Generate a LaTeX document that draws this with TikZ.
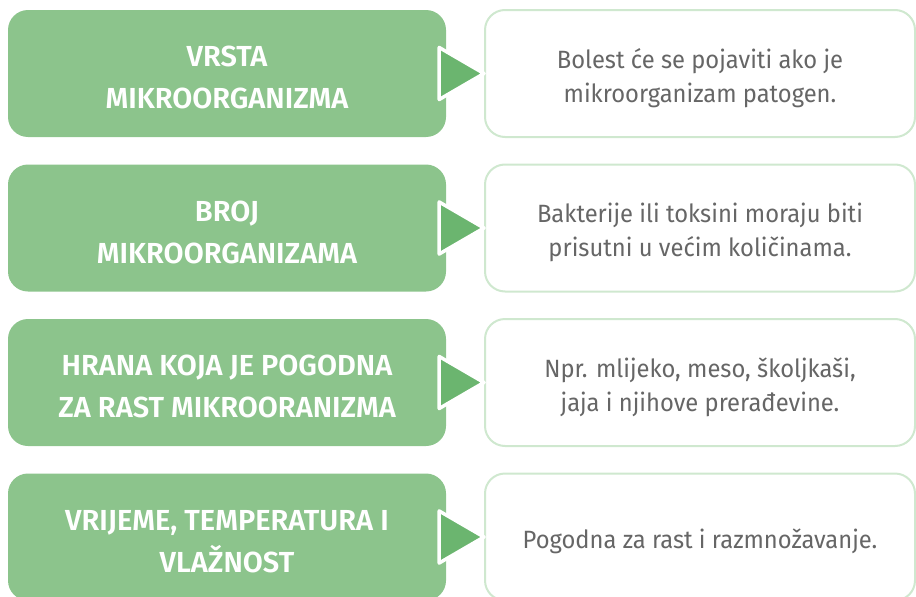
\documentclass[tikz,border=0pt]{standalone}
\usepackage{fontspec}
\setmainfont{Fira Sans}[BoldFont={Fira Sans SemiBold}]
\newfontfamily\rfont[FakeStretch=0.95]{Fira Sans}
\definecolor{boxgreen}{HTML}{8CC48C}
\definecolor{trigreen}{HTML}{6BB56F}
\definecolor{linegreen}{HTML}{CFE8CF}
\definecolor{textgrey}{HTML}{666666}
\newcommand\lup{\rule{0pt}{29pt}}
\newcommand\rup{\rule{0pt}{33pt}}
\newcommand\rdown{\rule[-10pt]{0pt}{10pt}}
\tikzset{
  lbox/.style={fill=boxgreen,rounded corners=20pt,minimum width=438pt,minimum height=127pt,
    text=white,align=center,font=\fontsize{29}{42}\selectfont\bfseries,inner sep=0pt},
  rbox/.style={draw=linegreen,line width=2pt,fill=white,rounded corners=20pt,minimum width=430pt,
    minimum height=127pt,text=textgrey,align=center,font=\rfont\fontsize{25}{34}\selectfont,inner sep=0pt},
  tri/.style={fill=trigreen,draw=white,line width=3.5pt,line join=round}
}
\begin{document}
\begin{tikzpicture}[x=1pt,y=-1pt]
  \useasboundingbox (0,0) rectangle (916,597);
  \node[lbox] (l1) at (227,73.5) {\lup VRSTA\\MIKROORGANIZMA};
  \node[rbox] (r1) at (700,73.5) {\rup Bolest će se pojaviti ako je\\mikroorganizam patogen.\rdown};
  \node[lbox] (l2) at (227,228) {\lup BROJ\\MIKROORGANIZAMA};
  \node[rbox] (r2) at (700,228) {\rup Bakterije ili toksini moraju biti\\prisutni u većim količinama.\rdown};
  \node[lbox] (l3) at (227,382.5) {\lup HRANA KOJA JE POGODNA\\ZA RAST MIKROORANIZMA};
  \node[rbox] (r3) at (700,382.5) {\rup Npr. mlijeko, meso, školjkaši,\\jaja i njihove prerađevine.\rdown};
  \node[lbox] (l4) at (227,537) {\lup VRIJEME, TEMPERATURA I\\VLAŽNOST};
  \node[rbox] (r4) at (700,537) {\rup Pogodna za rast i razmnožavanje.\rdown};
  % pointers
  \draw[tri] ([xshift=-7pt,yshift=26pt]l1.east) -- (r1.west) -- ([xshift=-7pt,yshift=-26pt]l1.east) -- cycle;
  \draw[tri] ([xshift=-7pt,yshift=26pt]l2.east) -- (r2.west) -- ([xshift=-7pt,yshift=-26pt]l2.east) -- cycle;
  \draw[tri] ([xshift=-7pt,yshift=26pt]l3.east) -- (r3.west) -- ([xshift=-7pt,yshift=-26pt]l3.east) -- cycle;
  \draw[tri] ([xshift=-7pt,yshift=26pt]l4.east) -- (r4.west) -- ([xshift=-7pt,yshift=-26pt]l4.east) -- cycle;
\end{tikzpicture}
\end{document}
